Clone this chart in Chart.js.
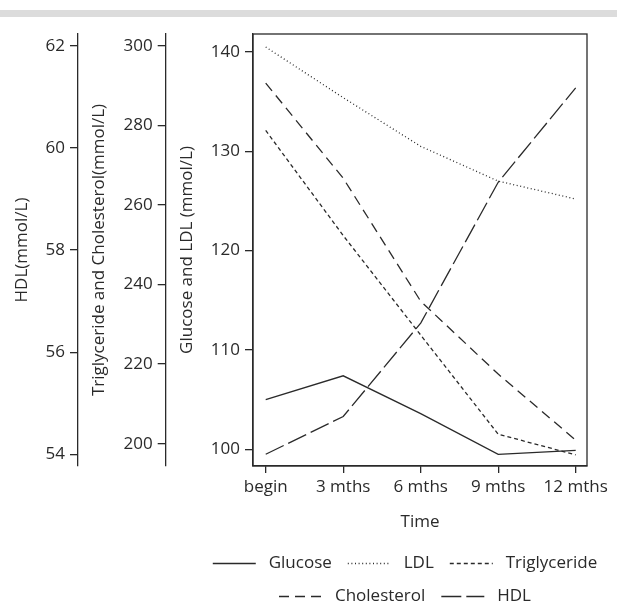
<!DOCTYPE html>
<html>
<head>
<meta charset="utf-8">
<script src="https://cdn.jsdelivr.net/npm/chart.js@4.4.1/dist/chart.umd.min.js"></script>
<style>
  html, body { margin: 0; padding: 0; background: #fff; }
  #wrap { position: relative; width: 617px; height: 615px; }
  #topBar { position: absolute; left: 0; top: 10px; width: 617px; height: 7px; background: #dcdcdc; }
  canvas { position: absolute; left: 0; top: 0; }
</style>
</head>
<body>
<div id="wrap">
  <div id="topBar"></div>
  <canvas id="chart" width="617" height="615"></canvas>
</div>
<script>
  // ── DATI ─────────────────────────────────────────────────
  const categories   = ['begin', '3 mths', '6 mths', '9 mths', '12 mths'];
  const glucose      = [105.0, 107.4, 103.6, 99.5, 99.9];
  const ldl          = [140.5, 135.4, 130.5, 127.0, 125.2];
  const triglyceride = [278.7, 252.3, 227.3, 202.4, 197.2];
  const cholesterol  = [290.6, 266.7, 235.8, 217.5, 200.9];
  const hdl          = [54.0, 54.74, 56.57, 59.33, 61.18];

  const glucoseTicks = [100, 110, 120, 130, 140];
  const lipidTicks   = [200, 220, 240, 260, 280, 300];
  const hdlTicks     = [54, 56, 58, 60, 62];

  const INK  = '#2a2a2a';
  const FONT = { family: "'Open Sans', sans-serif", size: 17 };

  const points = values => values.map((v, i) => ({ x: i, y: v }));

  function series(label, values, axis, dash) {
    return {
      label,
      data: points(values),
      yAxisID: axis,
      borderColor: INK,
      backgroundColor: INK,
      borderWidth: 1.3,
      borderDash: dash,
      pointRadius: 0,
      tension: 0,
      fill: false,
    };
  }

  const fixTicks = values => scale => { scale.ticks = values.map(v => ({ value: v })); };

  function leftAxis(min, max, ticks, title, width, weight, titlePad) {
    return {
      type: 'linear',
      position: 'left',
      min, max, weight,
      afterBuildTicks: fixTicks(ticks),
      afterFit: scale => { scale.width = width; scale.paddingTop = 0; scale.paddingBottom = 0; },
      grid: { drawOnChartArea: false, drawTicks: true, tickLength: 8, color: INK, lineWidth: 1.3 },
      border: { display: true, color: INK, width: 1.3 },
      ticks: { color: INK, font: FONT, padding: 5 },
      title: { display: true, text: title, color: INK, font: FONT, padding: { top: titlePad, bottom: 0 } },
    };
  }

  // cornice del riquadro del grafico
  const frame = {
    id: 'frame',
    afterDatasetsDraw(chart) {
      const { ctx, chartArea: a } = chart;
      ctx.save();
      ctx.strokeStyle = INK;
      ctx.lineWidth = 1.3;
      ctx.strokeRect(a.left, a.top, a.right - a.left, a.bottom - a.top);
      ctx.restore();
    }
  };

  // centra la legenda sotto il riquadro
  const legendShift = {
    id: 'legendShift',
    afterLayout(chart) {
      const lg = chart.legend;
      const dx = 405 - (lg.left + lg.right) / 2;
      lg.left += dx;
      lg.right += dx;
    }
  };

  new Chart(document.getElementById('chart').getContext('2d'), {
    type: 'line',
    data: {
      datasets: [
        series('Glucose', glucose, 'y', []),
        series('LDL', ldl, 'y', [1, 2.6]),
        series('Triglyceride', triglyceride, 'y2', [4, 3]),
        series('Cholesterol', cholesterol, 'y2', [10, 6]),
        series('HDL', hdl, 'y3', [20, 5]),
      ]
    },
    options: {
      responsive: false,
      animation: false,
      layout: { padding: { left: 10, right: 30, top: 34, bottom: 0 } },
      plugins: {
        tooltip: { enabled: false },
        legend: {
          position: 'bottom',
          labels: {
            usePointStyle: true,
            pointStyle: 'line',
            pointStyleWidth: 43,
            color: INK,
            font: FONT,
            padding: 16,
            generateLabels: chart =>
              Chart.defaults.plugins.legend.labels.generateLabels(chart).map(item => {
                const ds = chart.data.datasets[item.datasetIndex];
                item.text = ' ' + item.text;
                item.lineDash = ds.borderDash;
                item.lineWidth = 1.3;
                item.strokeStyle = INK;
                item.fillStyle = INK;
                return item;
              })
          }
        }
      },
      scales: {
        x: {
          type: 'linear',
          min: -0.164,
          max: 4.146,
          afterBuildTicks: fixTicks(categories.map((c, i) => i)),
          afterFit: scale => { scale.height = 73; scale.paddingLeft = 0; scale.paddingRight = 0; },
          grid: { drawOnChartArea: false, tickLength: 7, color: INK, lineWidth: 1.3 },
          border: { display: true, color: INK, width: 1.3 },
          ticks: { color: INK, font: FONT, padding: 4, maxRotation: 0, autoSkip: false, callback: v => categories[v] },
          title: { display: true, text: 'Time', color: INK, font: FONT, padding: { top: 0, bottom: 7 } },
        },
        y:  leftAxis(98.32, 141.81, glucoseTicks, 'Glucose and LDL (mmol/L)', 87.3, 1, 11),
        y2: leftAxis(194.4, 302.94, lipidTicks, 'Triglyceride and Cholesterol(mmol/L)', 87.7, 2, 11),
        y3: leftAxis(53.77, 62.235, hdlTicks, 'HDL(mmol/L)', 68, 3, 2),
      }
    },
    plugins: [frame, legendShift]
  });
</script>
</body>
</html>
